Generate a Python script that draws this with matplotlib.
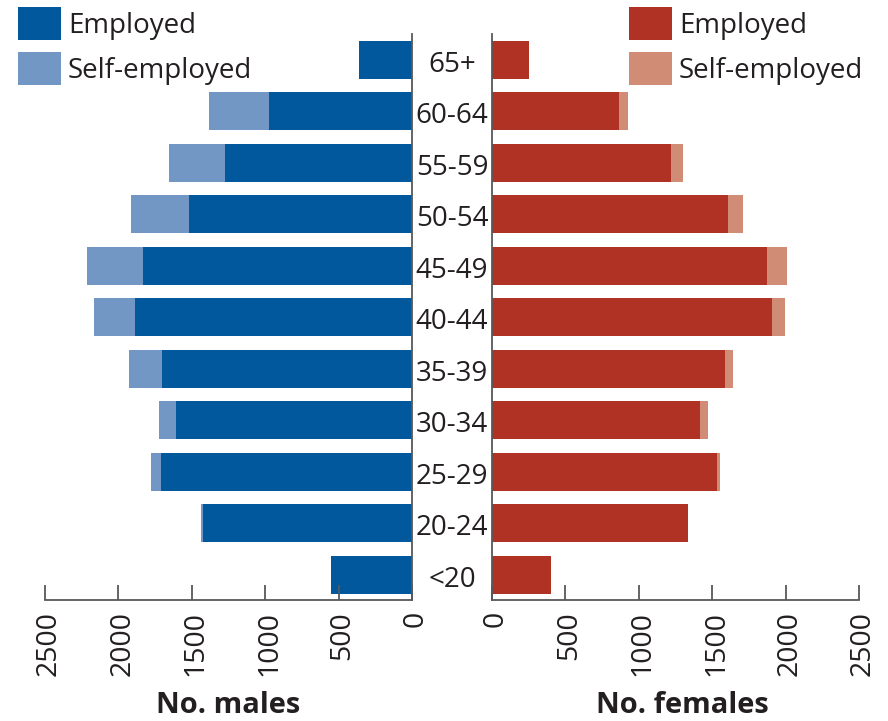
import matplotlib
matplotlib.use("Agg")
import matplotlib.pyplot as plt
import matplotlib.transforms as mtransforms
import numpy as np

plt.rcParams['font.family'] = ['Open Sans', 'DejaVu Sans']

age_groups = ['<20', '20-24', '25-29', '30-34', '35-39', '40-44',
              '45-49', '50-54', '55-59', '60-64', '65+']
male_employed = [552, 1425, 1711, 1609, 1705, 1889, 1834, 1521, 1275, 975, 361]
male_self = [0, 14, 69, 116, 225, 280, 382, 395, 382, 410, 0]
female_employed = [400, 1335, 1532, 1416, 1587, 1907, 1873, 1607, 1219, 864, 250]
female_self = [0, 0, 21, 55, 54, 89, 137, 103, 81, 61, 0]
ticks = [0, 500, 1000, 1500, 2000, 2500]
xlabels = ['No. males', 'No. females']
legend_labels = ['Employed', 'Self-employed']

c_m_emp = '#02589c'
c_m_self = '#7297c5'
c_f_emp = '#b03224'
c_f_self = '#d08c74'
txt = '#231f20'
spine_c = '#58585a'

W, H = 888, 721
fig = plt.figure(figsize=(W / 100, H / 100), dpi=100)

axL = fig.add_axes([45 / W, 1 - 600 / H, 367 / W, 566 / H])
axR = fig.add_axes([492 / W, 1 - 600 / H, 367 / W, 566 / H])

y = np.arange(len(age_groups))
bh = 0.74

bL1 = axL.barh(y, male_employed, height=bh, color=c_m_emp, linewidth=0)
bL2 = axL.barh(y, male_self, left=male_employed, height=bh, color=c_m_self, linewidth=0)
bR1 = axR.barh(y, female_employed, height=bh, color=c_f_emp, linewidth=0)
bR2 = axR.barh(y, female_self, left=female_employed, height=bh, color=c_f_self, linewidth=0)

for ax in (axL, axR):
    ax.set_xlim(0, 2500)
    ax.set_ylim(-0.49, 10.5)
    ax.set_yticks([])
    ax.set_xticks(ticks)
    ax.set_xticklabels([str(t) for t in ticks], rotation=90, fontsize=20.5, color=txt)
    ax.tick_params(axis='x', direction='in', length=11, width=1.3, color=spine_c, pad=8)
    ax.spines['top'].set_visible(False)
    for s in ax.spines.values():
        s.set_color(spine_c)
        s.set_linewidth(1.3)
    ax.set_facecolor('none')

axL.invert_xaxis()
axL.spines['left'].set_visible(False)
axR.spines['right'].set_visible(False)

axL.set_xlabel(xlabels[0], fontsize=21, fontweight='bold', color=txt, labelpad=11)
axR.set_xlabel(xlabels[1], fontsize=21, fontweight='bold', color=txt, labelpad=11)
axR.xaxis.label.set_x(0.519)

# shift rotated tick labels slightly right to match reference
off = mtransforms.ScaledTranslation(4 / 100, 0, fig.dpi_scale_trans)
for ax in (axL, axR):
    for lab in ax.get_xticklabels():
        lab.set_transform(lab.get_transform() + off)

# age group labels in the middle
tr = mtransforms.blended_transform_factory(fig.transFigure, axL.transData)
for yi, lab in zip(y, age_groups):
    fig.text(452 / W, yi - 0.1, lab, transform=tr, ha='center', va='center',
             fontsize=20, color=txt)

leg_kw = dict(frameon=False, fontsize=20, handlelength=1.55, handleheight=1.45,
              handletextpad=0.25, labelspacing=0.44, borderpad=0, borderaxespad=0,
              loc='upper left', bbox_transform=fig.transFigure, labelcolor=txt)
fig.legend([bL1, bL2], legend_labels, bbox_to_anchor=(18 / W, 1 - 7 / H), **leg_kw)
fig.legend([bR1, bR2], legend_labels, bbox_to_anchor=(629 / W, 1 - 7 / H), **leg_kw)

fig.savefig('out.png', dpi=100)
